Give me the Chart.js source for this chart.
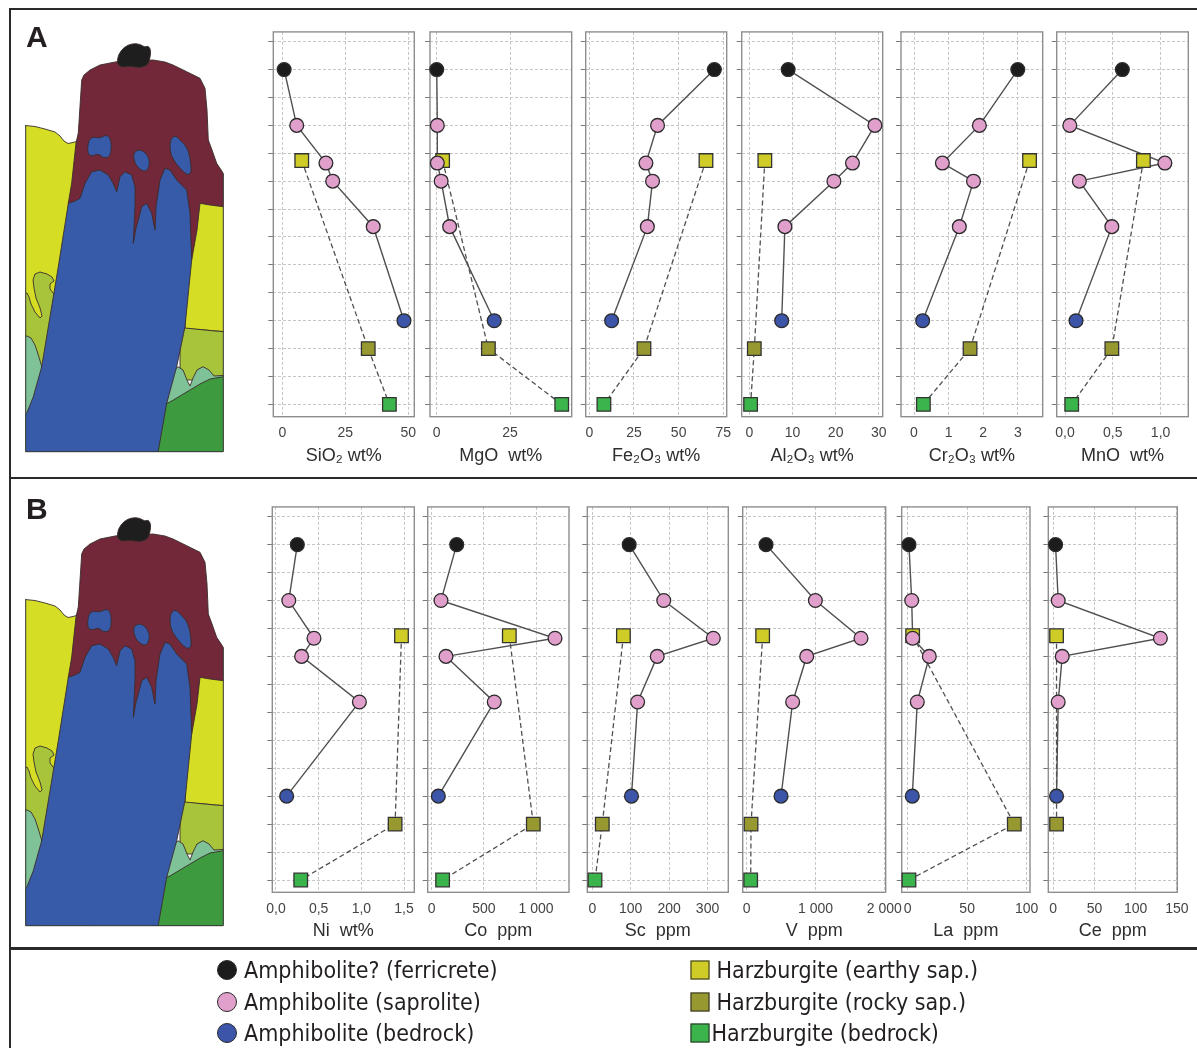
<!DOCTYPE html>
<html>
<head>
<meta charset="utf-8">
<title>Weathering profiles</title>
<script src="https://cdn.jsdelivr.net/npm/chart.js@4.4.1/dist/chart.umd.min.js"></script>
<style>
  html, body { margin: 0; padding: 0; background: #fff; }
  #page { position: relative; width: 1197px; height: 1048px; overflow: hidden; }
  .rule { position: absolute; background: #2a2a2a; }
  .tag { position: absolute; font: bold 30px "Liberation Sans Narrow", "Liberation Sans", Arial, sans-serif; color: #231f20; line-height: 1; }
  .lg { position: absolute; font: 23px "Liberation Sans Narrow", "DejaVu Sans Condensed", sans-serif; color: #231f20; line-height: 1; white-space: nowrap; transform: translateY(-50%); }
  .mk { position: absolute; box-sizing: border-box; border: 1.5px solid #2a2a2a; transform: translate(-50%, -50%); }
  canvas { position: absolute; }
</style>
</head>
<body>
<div id="page">
  <canvas id="section" width="260" height="1048" style="left:0;top:0"></canvas>
  <div class="rule" style="left:9px;top:8px;width:1188px;height:2px"></div>
  <div class="rule" style="left:9px;top:8px;width:2px;height:1040px"></div>
  <div class="rule" style="left:9px;top:477px;width:1188px;height:2px"></div>
  <div class="rule" style="left:9px;top:947px;width:1188px;height:3px"></div>
  <div class="tag" style="left:26px;top:22px">A</div>
  <div class="tag" style="left:26px;top:494px">B</div>
</div>
<script>
// depth positions of the samples (tick index from top of profile)
const depthTicks = [0, 1, 2, 3, 4, 5, 6, 7, 8, 9, 10, 11, 12, 13];
const amphDepth = [1, 3, 4.35, 5, 6.63, 10];
const harzDepth = [4.26, 11, 13];
const amphKind = [0, 1, 1, 1, 1, 2];

const amphNames = ["Amphibolite? (ferricrete)", "Amphibolite (saprolite)", "Amphibolite (bedrock)"];
const harzNames = ["Harzburgite (earthy sap.)", "Harzburgite (rocky sap.)", "Harzburgite (bedrock)"];

// panel A, wt%
const sio2Amph = [0.7, 5.7, 17.3, 20, 36.1, 48.3];
const sio2Harz = [7.7, 34.1, 42.5];
const mgoAmph = [0, 0.2, 0.2, 1.5, 4.4, 19.6];
const mgoHarz = [2.0, 17.6, 42.6];
const fe2o3Amph = [70, 38.2, 31.7, 35.4, 32.5, 12.5];
const fe2o3Harz = [65.3, 30.6, 8.2];
const al2o3Amph = [9.0, 29.1, 23.9, 19.6, 8.25, 7.5];
const al2o3Harz = [3.6, 1.16, 0.3];
const cr2o3Amph = [3.0, 1.89, 0.82, 1.72, 1.31, 0.25];
const cr2o3Harz = [3.34, 1.62, 0.27];
const mnoAmph = [0.60, 0.05, 1.045, 0.15, 0.49, 0.115];
const mnoHarz = [0.82, 0.49, 0.07];

// panel B
const niAmph = [0.25, 0.15, 0.445, 0.30, 0.977, 0.125];
const niHarz = [1.47, 1.395, 0.29];
const coAmph = [240, 89, 1182, 137, 600, 64];
const coHarz = [744, 974, 105];
const scAmph = [96, 186, 315, 169, 118, 102];
const scHarz = [81, 26, 7];
const vAmph = [281, 998, 1661, 872, 668, 499];
const vHarz = [232, 63, 58];
const laAmph = [1.1, 3.4, 4.2, 18.2, 8.1, 3.9];
const laHarz = [4.2, 89.6, 1.1];
const ceAmph = [2.8, 6, 130, 10.9, 6, 4];
const ceHarz = [4, 4, null];

// tick labels
const sio2Ticks = [0, 25, 50];
const mgoTicks = [0, 25];
const fe2o3Ticks = [0, 25, 50, 75];
const al2o3Ticks = [0, 10, 20, 30];
const cr2o3Ticks = [0, 1, 2, 3];
const mnoTicks = [0, 0.5, 1];
const mnoTickLabels = ["0,0", "0,5", "1,0"];
const niTicks = [0, 0.5, 1, 1.5];
const niTickLabels = ["0,0", "0,5", "1,0", "1,5"];
const coTicks = [0, 500, 1000];
const coTickLabels = ["0", "500", "1 000"];
const scTicks = [0, 100, 200, 300];
const vTicks = [0, 1000, 2000];
const vTickLabels = ["0", "1 000", "2 000"];
const laTicks = [0, 50, 100];
const ceTicks = [0, 50, 100, 150];

// styles
const amphFill = ["#1c1c1c", "#e19fcc", "#3d55a8"];
const harzFill = ["#cfcc27", "#989830", "#3bb44b"];

const rowA = { top: 25.7, bottom: 416.7 };
const rowB = { top: 500.7, bottom: 892.3 };

const panels = [
  { row: rowA, L: 273.3, R: 414.3, min: -3.6, max: 52.4, title: "SiO\u2082 wt%", amph: sio2Amph, harz: sio2Harz, ticks: sio2Ticks },
  { row: rowA, L: 430, R: 571.7, min: -2.3, max: 46, title: "MgO  wt%", amph: mgoAmph, harz: mgoHarz, ticks: mgoTicks },
  { row: rowA, L: 585.7, R: 726.7, min: -2.0, max: 76.9, title: "Fe\u2082O\u2083 wt%", amph: fe2o3Amph, harz: fe2o3Harz, ticks: fe2o3Ticks },
  { row: rowA, L: 741.7, R: 882.7, min: -1.76, max: 30.9, title: "Al\u2082O\u2083 wt%", amph: al2o3Amph, harz: al2o3Harz, ticks: al2o3Ticks },
  { row: rowA, L: 901, R: 1042.7, min: -0.376, max: 3.72, title: "Cr\u2082O\u2083 wt%", amph: cr2o3Amph, harz: cr2o3Harz, ticks: cr2o3Ticks },
  { row: rowA, L: 1056.7, R: 1188.3, min: -0.087, max: 1.29, title: "MnO  wt%", amph: mnoAmph, harz: mnoHarz, ticks: mnoTicks, labels: mnoTickLabels },
  { row: rowB, L: 272.3, R: 414.3, min: -0.043, max: 1.62, title: "Ni  wt%", amph: niAmph, harz: niHarz, ticks: niTicks, labels: niTickLabels },
  { row: rowB, L: 427.7, R: 569, min: -38, max: 1316, title: "Co  ppm", amph: coAmph, harz: coHarz, ticks: coTicks, labels: coTickLabels },
  { row: rowB, L: 587.3, R: 728.3, min: -13, max: 354, title: "Sc  ppm", amph: scAmph, harz: scHarz, ticks: scTicks },
  { row: rowB, L: 742.7, R: 885.7, min: -58, max: 2020, title: "V  ppm", amph: vAmph, harz: vHarz, ticks: vTicks, labels: vTickLabels },
  { row: rowB, L: 901.7, R: 1030, min: -5, max: 102.8, title: "La  ppm", amph: laAmph, harz: laHarz, ticks: laTicks },
  { row: rowB, L: 1048.3, R: 1177.3, min: -6, max: 150.5, title: "Ce  ppm", amph: ceAmph, harz: ceHarz, ticks: ceTicks }
];

Chart.defaults.font.family = '"Liberation Sans", Arial, sans-serif';
Chart.defaults.color = "#3a3a3a";

const framePlugin = {
  id: "frame",
  beforeDatasetsDraw(chart) {
    const { ctx, chartArea: a } = chart;
    ctx.save();
    ctx.strokeStyle = "#8e8e8e";
    ctx.lineWidth = 1.4;
    ctx.strokeRect(a.left, a.top, a.right - a.left, a.bottom - a.top);
    ctx.restore();
  }
};

const page = document.getElementById("page");

function points(values, depths) {
  return values.map((v, i) => ({ x: v, y: depths[i] })).filter(p => p.x !== null);
}

function makePanel(p) {
  const padL = 18, padR = 20, padT = 4, yW = 6, axisH = 50;
  const top = p.row.top, bottom = p.row.bottom;
  const cx = Math.floor(p.L - yW - padL);
  const cw = Math.ceil(p.R + padR - cx);
  const cy = Math.floor(top - padT);
  const ch = Math.ceil(bottom + axisH + 4 - cy);

  const canvas = document.createElement("canvas");
  canvas.width = cw;
  canvas.height = ch;
  canvas.style.left = cx + "px";
  canvas.style.top = cy + "px";
  canvas.style.width = cw + "px";
  canvas.style.height = ch + "px";
  page.appendChild(canvas);

  const harzPts = points(p.harz, harzDepth);
  const amphPts = points(p.amph, amphDepth);

  new Chart(canvas.getContext("2d"), {
    type: "scatter",
    data: {
      datasets: [
        {
          data: amphPts,
          pointStyle: "circle",
          pointRadius: 6.9,
          pointBackgroundColor: amphKind.map(k => amphFill[k]),
          pointBorderColor: "#2b2b2b",
          pointBorderWidth: 1.3,
          clip: false
        },
        {
          data: harzPts,
          pointStyle: "rect",
          pointRadius: 9.6,
          pointBackgroundColor: harzFill.slice(0, harzPts.length),
          pointBorderColor: "#333333",
          pointBorderWidth: 1.3,
          clip: false
        },
        {
          data: amphPts,
          showLine: true,
          pointRadius: 0,
          borderColor: "#505050",
          borderWidth: 1.4,
          tension: 0
        },
        {
          data: harzPts,
          showLine: true,
          pointRadius: 0,
          borderColor: "#505050",
          borderWidth: 1.3,
          borderDash: [5, 3],
          tension: 0
        }
      ]
    },
    options: {
      responsive: false,
      animation: false,
      events: [],
      layout: {
        padding: {
          left: p.L - yW - cx,
          right: cx + cw - p.R,
          top: top - cy,
          bottom: cy + ch - bottom - axisH
        }
      },
      plugins: { legend: { display: false }, tooltip: { enabled: false } },
      scales: {
        x: {
          type: "linear",
          position: "bottom",
          min: p.min,
          max: p.max,
          afterBuildTicks: s => { s.ticks = p.ticks.map(v => ({ value: v })); },
          afterFit: s => { s.height = axisH; s.paddingLeft = 0; s.paddingRight = 0; },
          grid: { color: "#c6c6c6", lineWidth: 1, drawTicks: false },
          border: { display: false, dash: [3, 2] },
          ticks: {
            padding: 8,
            maxRotation: 0,
            autoSkip: false,
            color: "#444",
            font: { size: 14 },
            callback: (v, i) => (p.labels ? p.labels[i] : String(v))
          },
          title: {
            display: true,
            text: p.title,
            color: "#2e2e2e",
            font: { size: 18 },
            padding: 0
          }
        },
        y: {
          type: "linear",
          reverse: true,
          min: -0.35,
          max: 13.44,
          afterBuildTicks: s => { s.ticks = depthTicks.map(v => ({ value: v })); },
          afterFit: s => { s.width = yW; s.paddingTop = 0; s.paddingBottom = 0; },
          grid: { color: "#c6c6c6", lineWidth: 1, drawTicks: true, tickLength: 5, tickColor: "#7a7a7a" },
          border: { display: false, dash: [3, 2] },
          ticks: { display: false }
        }
      }
    },
    plugins: [framePlugin]
  });
}

panels.forEach(makePanel);

// legend
const legendRows = [970, 1001.5, 1033];
amphNames.forEach((name, i) => {
  const m = document.createElement("div");
  m.className = "mk";
  m.style.cssText = `left:226.7px;top:${legendRows[i]}px;width:20px;height:20px;border-radius:50%;background:${amphFill[i]}`;
  page.appendChild(m);
  const t = document.createElement("div");
  t.className = "lg";
  t.style.left = "244px";
  t.style.top = legendRows[i] + "px";
  t.textContent = name;
  page.appendChild(t);
});
harzNames.forEach((name, i) => {
  const m = document.createElement("div");
  m.className = "mk";
  m.style.cssText = `left:699.7px;top:${legendRows[i]}px;width:19px;height:19px;background:${harzFill[i]}`;
  page.appendChild(m);
  const t = document.createElement("div");
  t.className = "lg";
  t.style.left = (i === 2 ? 711.5 : 716.5) + "px";
  t.style.top = legendRows[i] + "px";
  t.textContent = name;
  page.appendChild(t);
});

// cross-section sketch of the profile (drawn twice)
const sec = document.getElementById("section").getContext("2d");

function poly(ctx, pts, fill, dy) {
  ctx.beginPath();
  pts.forEach(([x, y], i) => (i ? ctx.lineTo(x, y + dy) : ctx.moveTo(x, y + dy)));
  ctx.closePath();
  ctx.fillStyle = fill;
  ctx.fill();
  ctx.stroke();
}

function blob(ctx, pts, fill, dy) {
  const n = pts.length;
  ctx.beginPath();
  for (let i = 0; i <= n; i++) {
    const a = pts[i % n], b = pts[(i + 1) % n];
    const mx = (a[0] + b[0]) / 2, my = (a[1] + b[1]) / 2 + dy;
    if (i === 0) ctx.moveTo(mx, my);
    else ctx.quadraticCurveTo(a[0], a[1] + dy, mx, my);
  }
  ctx.closePath();
  ctx.fillStyle = fill;
  ctx.fill();
  ctx.stroke();
}

function drawSection(ctx, dy) {
  const L = 25.7, R = 223.3, B = 451.7;
  ctx.save();
  ctx.beginPath();
  ctx.rect(L, 30 + dy, R - L, B - 30);
  ctx.clip();
  ctx.lineWidth = 0.9;
  ctx.strokeStyle = "#3a2c2c";
  ctx.lineJoin = "round";

  poly(ctx, [[20, 125], [35, 126.5], [45, 129], [55, 132], [60, 136], [64, 141], [68, 143.5], [73, 142.5], [78, 141], [90, 141], [90, 460], [20, 460]], "#d5de24", dy);
  poly(ctx, [[20, 296], [27, 293], [29, 297], [31, 304], [35, 312], [40, 318], [42, 316], [40, 308], [36, 298], [34, 288], [33, 280], [35, 274], [40, 272], [47, 274], [52, 277], [54, 281], [50, 284], [50, 289], [53, 293], [57, 295], [90, 295], [90, 460], [20, 460]], "#a7c43b", dy);
  poly(ctx, [[20, 337], [27, 336], [31, 338], [35, 345], [38, 354], [41, 364], [43, 372], [43, 460], [20, 460]], "#80c297", dy);

  poly(ctx, [[185, 200], [230, 200], [230, 332], [215, 331], [200, 329.5], [185, 329]], "#d5de24", dy);
  poly(ctx, [[180, 329], [185, 328], [200, 329.5], [215, 331], [230, 332], [230, 380], [180, 380]], "#a7c43b", dy);
  poly(ctx, [[165, 380], [172, 372], [178, 366.7], [183, 370], [187, 380], [190, 386], [193, 378], [197, 370], [203, 366.7], [209, 370], [214, 376], [230, 375], [230, 460], [165, 460]], "#80c297", dy);
  poly(ctx, [[160, 406], [170, 402], [180, 396], [190, 390], [200, 384], [210, 379], [223.3, 376.7], [230, 376], [230, 460], [150, 460]], "#3d9a3e", dy);

  poly(ctx, [[81.7, 80], [84, 75], [90, 70], [100, 65], [116.7, 61.7], [135, 61], [153, 60], [165, 62], [173, 65], [186.7, 71.7], [200, 78.3], [205, 88.3], [207, 110], [208.3, 140], [212, 150], [216.7, 163.3], [223.3, 173.3], [230, 173.3], [230, 206.7], [223.3, 206.7], [210, 205], [200, 203.3], [197, 230], [191.7, 260], [80, 260], [68.3, 203.3], [71.7, 183], [76, 143], [78.3, 133]], "#722838", dy);

  poly(ctx, [[68.3, 203.3], [75, 201], [80, 198.3], [85, 183.3], [91.7, 171.7], [100, 170], [108.3, 175], [113, 183], [116.7, 191.7], [120, 176.7], [125, 171.7], [131.7, 175], [135, 186.7], [135, 206.7], [133.3, 243.3], [136, 228], [138.3, 220], [141.7, 206.7], [146.7, 203.3], [151.7, 213.3], [155, 230], [156, 206.7], [160, 180], [165, 168.3], [170, 170], [176.7, 180], [186.7, 190], [190, 213], [191.7, 260], [185, 326.7], [176.7, 366.7], [166.7, 403.3], [156.7, 460], [20, 460], [20, 420], [26.7, 413.3], [33.3, 396.7], [41.7, 366.7], [50, 316.7], [58.3, 266.7]], "#375aa9", dy);

  blob(ctx, [[88.3, 140], [93.3, 136.7], [100, 138.3], [105, 135], [110, 136.7], [111.7, 146.7], [110, 156.7], [103.3, 158.3], [98.3, 153.3], [91.7, 156.7], [87.3, 153.3]], "#375aa9", dy);
  blob(ctx, [[133.3, 153.3], [138.3, 149.3], [145, 151.7], [150, 160], [148.3, 170], [143.3, 171.7], [136.7, 166.7], [134, 160]], "#375aa9", dy);
  blob(ctx, [[170, 140], [175, 135], [180, 140], [186.7, 146.7], [190, 156.7], [191.7, 173.3], [186.7, 175], [180, 168.3], [173.3, 160], [170, 151.7]], "#375aa9", dy);

  blob(ctx, [[117, 64], [118, 55], [124, 47], [132, 43.5], [140, 44], [145, 47.5], [148, 45.5], [151, 50], [150, 58], [148, 65], [140, 68], [130, 66], [122, 67.5]], "#1e1e1e", dy);
  ctx.restore();

  ctx.save();
  ctx.strokeStyle = "#333";
  ctx.lineWidth = 1;
  ctx.beginPath();
  ctx.moveTo(L, 125 + dy);
  ctx.lineTo(L, B + dy);
  ctx.lineTo(R, B + dy);
  ctx.lineTo(R, 173.3 + dy);
  ctx.stroke();
  ctx.restore();
}

drawSection(sec, 0);
drawSection(sec, 474);
</script>
</body>
</html>
